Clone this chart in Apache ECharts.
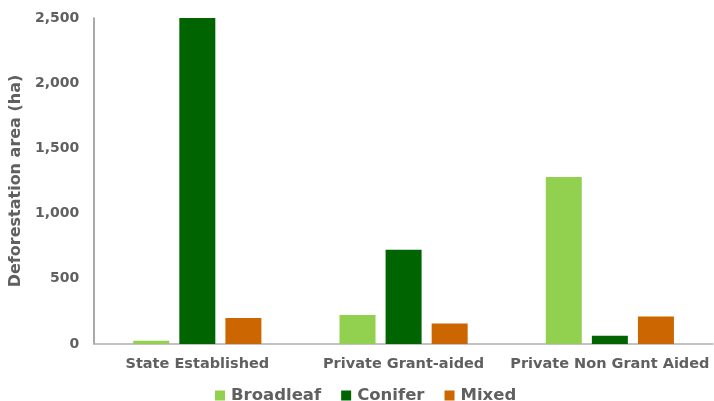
<!DOCTYPE html>
<html>
<head>
<meta charset="utf-8">
<script src="https://cdn.jsdelivr.net/npm/echarts@6/dist/echarts.min.js"></script>
<style>
* { margin: 0; padding: 0; }
#chart-container { width: 714px; height: 401px; background: #fff; }
</style>
</head>
<body>
<div id="chart-container"></div>
<script>
const categories = ['State Established', 'Private Grant-aided', 'Private Non Grant Aided']
const broadleaf = [25, 222, 1280]
const conifer = [2500, 723, 64]
const mixed = [200, 158, 210]
const yTicks = [0, 500, 1000, 1500, 2000, 2500]

const chart = echarts.init(document.getElementById('chart-container'))
const font = 'DejaVu Sans, sans-serif'
const grey = '#606060'

const bar = (name, data, color) => ({
  name: name,
  type: 'bar',
  data: data,
  barWidth: 36,
  barGap: '28%',
  itemStyle: { color: color }
})

chart.setOption({
  animation: false,
  textStyle: { fontFamily: font },
  grid: { left: 92, right: 1, top: 18, bottom: 57 },
  legend: {
    bottom: -8,
    left: 210,
    itemWidth: 10,
    itemHeight: 10,
    itemGap: 20,
    icon: 'rect',
    textStyle: { color: grey, fontSize: 16.5, fontWeight: 'bold', fontFamily: font, padding: [0, 0, 0, 1] },
    data: ['Broadleaf', 'Conifer', 'Mixed']
  },
  xAxis: {
    type: 'category',
    data: categories,
    axisLine: { lineStyle: { color: '#b0b0b0', width: 1.5 } },
    axisTick: { show: false },
    axisLabel: { color: grey, fontSize: 14.5, fontWeight: 'bold', margin: 13, interval: 0 }
  },
  yAxis: {
    type: 'value',
    min: yTicks[0],
    max: yTicks[yTicks.length - 1],
    interval: 500,
    name: 'Deforestation area (ha)',
    nameLocation: 'middle',
    nameGap: 61,
    nameTextStyle: { color: grey, fontSize: 16, fontWeight: 'bold' },
    axisLine: { show: true, lineStyle: { color: '#8c8c8c', width: 1.5 } },
    axisTick: { show: false },
    splitLine: { show: false },
    axisLabel: {
      color: grey,
      fontSize: 14,
      fontWeight: 'bold',
      margin: 15,
      formatter: v => v.toLocaleString('en-US')
    }
  },
  series: [
    bar('Broadleaf', broadleaf, '#92d050'),
    bar('Conifer', conifer, '#006400'),
    bar('Mixed', mixed, '#cc6600')
  ]
})
</script>
</body>
</html>
